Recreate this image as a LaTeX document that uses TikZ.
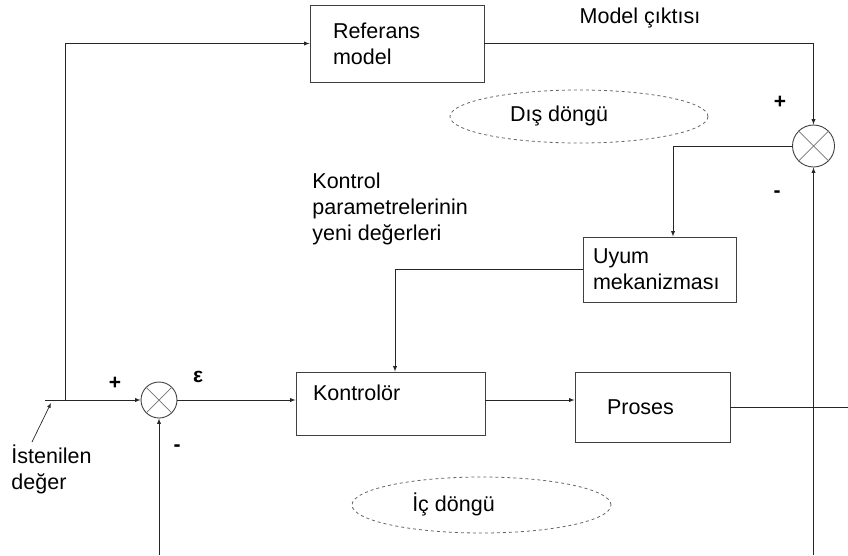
\documentclass[tikz,border=0pt]{standalone}
\usepackage{fontspec}
\setmainfont{Liberation Sans}
\usetikzlibrary{positioning,arrows}

\begin{document}
\begin{tikzpicture}[x=1pt,y=-1pt,font=\fontsize{21.5}{26}\selectfont,line width=0.9pt]
 \tikzset{arrow/.style={-latex,draw=black!85},
   blok/.style={draw=black!75,align=left,inner ysep=0pt},
   toplam/.style={draw=black!75,circle,inner sep=0pt},
   dongu/.style={draw=black!60,dashed,line width=0.8pt},
   isaret/.style={font=\fontsize{21}{21}\selectfont\bfseries}}
 \useasboundingbox (0,0) rectangle (848,555);

 \node[blok,text width=128pt,inner xsep=23pt,minimum height=77pt] (R) at (397,43.5) {Referans\\model};
 \node[blok,text width=133pt,inner xsep=10pt,minimum height=65pt] (U) at (659.5,269.5) {Uyum\\mekanizması};
 \node[blok,text width=155pt,inner xsep=17pt,minimum height=63pt] (K) at (390.5,403.5) {Kontrolör\\[-4pt]\mbox{}};
 \node[blok,text width=91pt,inner xsep=32pt,minimum height=70pt] (P) at (652.5,407) {Proses};
 \node[toplam,minimum size=36pt] (S1) at (159,400) {};
 \node[toplam,minimum size=42pt] (S2) at (813.5,146) {};
 \draw[black!55,line width=0.7pt] (S1.45) -- (S1.225) (S1.135) -- (S1.315);
 \draw[black!55,line width=0.7pt] (S2.45) -- (S2.225) (S2.135) -- (S2.315);

 \node (M) at (640,18) {Model çıktısı};
 \node[align=left,anchor=north west,inner sep=0pt] (KP) at (312,172) {Kontrol\\parametrelerinin\\yeni değerleri};
 \node[align=left,anchor=north west,inner sep=0pt] (I) at (11,444) {İstenilen\\değer};
 \draw[dongu] (579,116.5) ellipse [x radius=129pt,y radius=26.5pt];
 \node (D1) at (559,116) {Dış döngü};
 \draw[dongu] (481.5,505) ellipse [x radius=129.5pt,y radius=28pt];
 \node (D2) at (453.5,504) {İç döngü};

 \node[isaret] (p1) at (115,383) {+};
 \node[isaret] (e1) at (198,377) {ε};
 \node[isaret] (m1) at (177,448) {-};
 \node[isaret] (p2) at (780,102) {+};
 \node[isaret] (m2) at (777,194) {-};

 \coordinate (in) at (45,400);
 \coordinate (br) at (65,400);
 \coordinate (out) at (848,407);
 \coordinate (fb1) at (159,555);
 \coordinate (fb2) at (813.5,555);
 \coordinate (ok) at (32,442);
 \coordinate (ucu) at (51,403);

 \draw[arrow] (in) -- (S1.west);
 \draw[arrow] (br) |- (R.west);
 \draw[arrow] (S1.east) -- (K.west |- S1.east);
 \draw[arrow] (K.east |- S1.east) -- (P.west |- S1.east);
 \draw[black!85] (P.east) -- (out);
 \draw[arrow] (R.east) -| (S2.north);
 \draw[arrow] (S2.west) -| ([xshift=13.5pt]U.north);
 \draw[arrow] (U.west) -| ([xshift=4.5pt]K.north);
 \draw[arrow] (fb1) -- (S1.south);
 \draw[arrow] (fb2) -- (S2.south);
 \draw[arrow,line width=0.7pt] (ok) -- (ucu);
\end{tikzpicture}
\end{document}
